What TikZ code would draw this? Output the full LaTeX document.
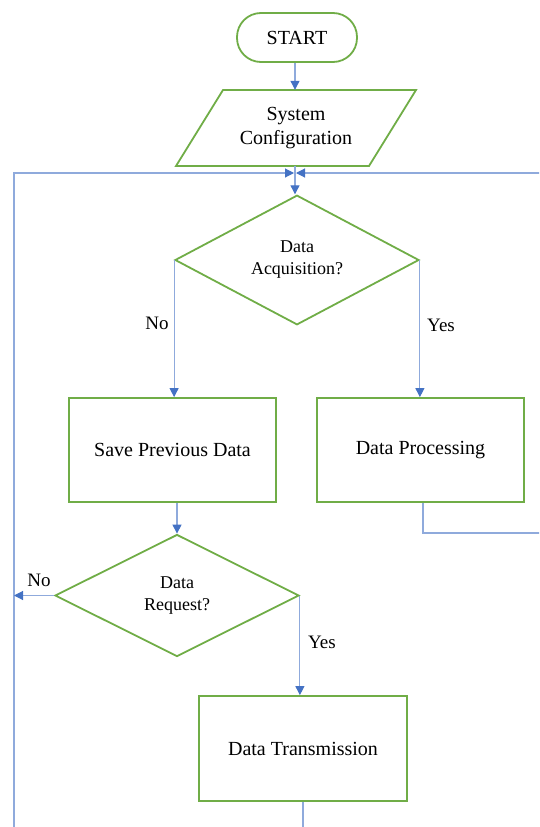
\documentclass[tikz,border=0pt]{standalone}
\usepackage{fontspec}
\setmainfont{Liberation Serif}
\usetikzlibrary{arrows.meta,shapes.geometric}
\definecolor{fgreen}{HTML}{70AD47}
\definecolor{lblue}{HTML}{8FAADC}
\definecolor{ablue}{HTML}{4472C4}
\tikzset{
  bigtext/.style={font=\fontsize{20}{24}\selectfont},
  smalltext/.style={font=\fontsize{18}{22}\selectfont},
  gbox/.style={draw=fgreen, line width=1.8pt, minimum width=207pt, minimum height=104pt, inner sep=0pt, bigtext, align=center},
  gdiam/.style={draw=fgreen, line width=1.8pt, diamond, inner sep=0pt, minimum width=244pt, minimum height=122pt, smalltext, align=center},
  conn/.style={draw=lblue, line width=1.1pt},
  arr/.style={conn, -{Triangle[length=9pt,width=9pt,color=ablue,fill=ablue]}},
  lbl/.style={font=\fontsize{19}{22}\selectfont, inner sep=0pt}
}
\begin{document}
\begin{tikzpicture}[x=1pt,y=-1pt]
\useasboundingbox (0,0) rectangle (539,827);
\clip (0,0) rectangle (539,827);
% nodes
\node[draw=fgreen, line width=1.8pt, rounded corners=24pt, minimum width=120pt, minimum height=49pt, inner sep=0pt, bigtext] (start) at (297,37.5) {START};
\node[minimum width=193pt, minimum height=76pt, inner sep=0pt, bigtext, align=center] (sys) at (296,128) {System\\Configuration};
\draw[fgreen, line width=1.8pt, line join=miter]
  ([shift={(-120,38)}]sys.center) -- ([shift={(73,38)}]sys.center) --
  ([shift={(120,-38)}]sys.center) -- ([shift={(-73,-38)}]sys.center) -- cycle;
\node[gdiam] (d1) at (297,260) {Data\\Acquisition?};
\node[gbox] (sp) at (172.5,450) {Save Previous Data};
\node[gbox] (dp) at (420.5,450) {Data Processing};
\node[gdiam] (d2) at (177,595.5) {Data\\Request?};
\node[gbox, minimum width=208pt, minimum height=105pt] (dt) at (303,748.5) {Data Transmission};
\coordinate (m) at (295,173);
% connectors
\draw[arr] (start.south -| m) -- (sys.north -| m);
\draw[arr] (sys.south -| m) -- (d1.north -| m);
\draw[arr] (dt.south) |- (14,860) |- ([xshift=-1pt]m);
\draw[arr] (dp.south -| 423,0) |- (560,533) |- ([xshift=1pt]m);
\draw[arr] (d1.west) -- (d1.west |- sp.north);
\draw[arr] (d1.east) -- (d1.east |- dp.north);
\draw[arr] (d2.north |- sp.south) -- (d2.north);
\draw[arr] (d2.west) -- (14,595.5);
\draw[arr] (d2.east) -- (d2.east |- dt.north);
% labels
\node[lbl] (no1) at (157,323) {No};
\node[lbl] (yes1) at (441,325) {Yes};
\node[lbl] (no2) at (39,580) {No};
\node[lbl] (yes2) at (322,642) {Yes};
\end{tikzpicture}
\end{document}
